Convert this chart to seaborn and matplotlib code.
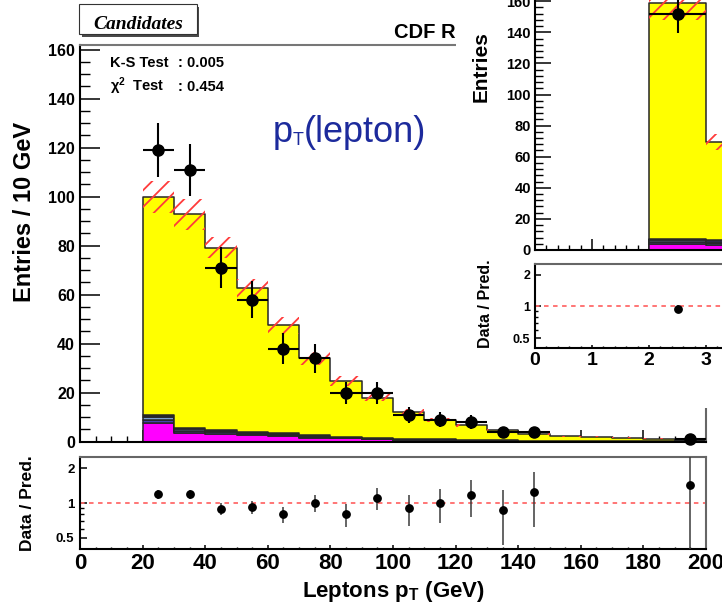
import numpy as np
import pandas as pd
import matplotlib
matplotlib.use("Agg")
import matplotlib.pyplot as plt
from matplotlib.patches import Rectangle
from matplotlib.ticker import MultipleLocator, FixedLocator, NullFormatter, FormatStrFormatter
import seaborn as sns

# ---------------- lepton pT spectrum (10 GeV bins, 20-200 GeV) ----------------
bin_edges = np.arange(20, 201, 10)
data_counts = [119, 111, 71, 58, 38, 34, 20, 20, 11, 9, 8, 4, 4, 0, 0, 0, 0, 1]
pred_total = [100, 92.8, 79.2, 62.6, 47.5, 34, 24.8, 18, 12.2, 9.0, 6.8, 4.6, 3.2,
              2.3, 2.0, 1.6, 1.3, 0.7]
pred_syst = [6.5, 6.4, 4.4, 4.0, 3.5, 2.7, 2.2, 1.5, 1.0, 0.8, 0.6, 0.4, 0.3,
             0.2, 0.2, 0.15, 0.1, 0.1]
bkg_magenta = [7.5, 3.6, 3.2, 2.6, 2.3, 1.6, 1.4, 1.1, 0.6, 0.5, 0.4, 0.3, 0.2,
               0.15, 0.1, 0.1, 0.1, 0.05]
bkg_blue = [1.4, 0.9, 0.7, 0.5, 0.5, 0.4, 0.3, 0.2, 0.2, 0.1, 0.1, 0.1, 0.05,
            0.05, 0.05, 0.05, 0.05, 0.05]
bkg_lightblue = [1.0, 0.5, 0.3, 0.3, 0.2, 0.2, 0.1, 0.1, 0.1, 0.1, 0.05, 0.05, 0.05,
                 0.05, 0.05, 0.05, 0.05, 0.05]
bkg_dark = [0.8, 0.6, 0.6, 0.5, 0.5, 0.4, 0.3, 0.3, 0.2, 0.2, 0.2, 0.1, 0.1,
            0.1, 0.1, 0.1, 0.05, 0.05]

# ---------------- second distribution (unit bins) ----------------
inset_edges = np.array([2.0, 3.0, 4.0])
inset_data = [152]
inset_pred_total = [159, 69.5]
inset_syst = [11, 5]
inset_magenta = [3.7, 3.2]
inset_blue = [1.6, 1.0]
inset_lightblue = [1.0, 0.6]
inset_dark = [1.0, 1.4]

y_ticks_main = [0, 20, 40, 60, 80, 100, 120, 140, 160]
ratio_ticks = [0.5, 1, 2]
ratio_minor = [0.6, 0.7, 0.8, 0.9]

proc_order = ["main", "dark", "lightblue", "blue", "magenta"]  # last one sits at the bottom
proc_colors = {"main": "#ffff00", "dark": "#2a2a44", "lightblue": "#7d9fd0",
               "blue": "#4646b0", "magenta": "#ff00ff"}

sns.set_theme(style="ticks", rc={
    "axes.edgecolor": "black", "text.color": "black", "axes.labelcolor": "black",
    "xtick.color": "black", "ytick.color": "black",
})
plt.rcParams["font.family"] = ["Liberation Sans", "DejaVu Sans"]
plt.rcParams["font.weight"] = "bold"
plt.rcParams["mathtext.fontset"] = "custom"
plt.rcParams["mathtext.rm"] = "Liberation Sans"
plt.rcParams["mathtext.it"] = "Liberation Sans:italic"
plt.rcParams["mathtext.bf"] = "Liberation Sans:bold"
plt.rcParams["hatch.color"] = "#ff3b3b"
plt.rcParams["hatch.linewidth"] = 1.3

W, H = 722, 608
fig = plt.figure(figsize=(W / 100, H / 100), dpi=100)


def frect(x0, y0, x1, y1):
    """Figure-fraction rectangle from pixel corners (top-left origin)."""
    return [x0 / W, 1 - y1 / H, (x1 - x0) / W, (y1 - y0) / H]


def stack_frame(edges, comps):
    centers = (edges[:-1] + edges[1:]) / 2
    rows = []
    for name, vals in comps.items():
        for c, v in zip(centers, vals):
            rows.append((c, v, name))
    return pd.DataFrame(rows, columns=["pt", "w", "proc"])


def draw_stack(ax, edges, total, magenta, blue, lightblue, dark, syst):
    total = np.asarray(total, float)
    others = np.asarray(magenta) + np.asarray(blue) + np.asarray(lightblue) + np.asarray(dark)
    comps = {"main": total - others, "dark": dark, "lightblue": lightblue,
             "blue": blue, "magenta": magenta}
    df = stack_frame(edges, comps)
    sns.histplot(data=df, x="pt", weights="w", hue="proc", hue_order=proc_order,
                 palette=proc_colors, multiple="stack", bins=[float(e) for e in edges],
                 element="step", fill=True, alpha=1, edgecolor="#262626", linewidth=1.1,
                 legend=False, ax=ax)
    centers = (edges[:-1] + edges[1:]) / 2
    syst = np.asarray(syst, float)
    ax.bar(centers, 2 * syst, bottom=total - syst, width=np.diff(edges), fill=False,
           hatch="//", edgecolor="#ff3b3b", linewidth=0, zorder=1.6)


def style_ticks(ax, xmaj, xmin, ymaj, ymin, xlab, ylab, xpad, ypad):
    ax.tick_params(which="both", direction="in", top=False, right=False, color="black")
    ax.tick_params(axis="x", which="major", length=xmaj, width=1.1, labelsize=xlab, pad=xpad)
    ax.tick_params(axis="x", which="minor", length=xmin, width=1.0)
    ax.tick_params(axis="y", which="major", length=ymaj, width=1.1, labelsize=ylab, pad=ypad)
    ax.tick_params(axis="y", which="minor", length=ymin, width=1.0)
    for lab in ax.get_xticklabels() + ax.get_yticklabels():
        lab.set_fontweight("bold")


def style_spines(ax, top=True, right=True):
    ax.spines["left"].set(color="black", linewidth=1.5)
    ax.spines["bottom"].set(color="black", linewidth=1.5)
    ax.spines["top"].set(color="#777777", linewidth=1.5, visible=top)
    ax.spines["right"].set(color="#666666", linewidth=1.5, visible=right)


def ratio_panel(ax, centers, counts, total, xlim, ms):
    counts = np.asarray(counts, float)
    total = np.asarray(total[:len(counts)], float)
    centers = np.asarray(centers[:len(counts)], float)
    keep = counts > 0
    r = counts[keep] / total[keep]
    e = np.sqrt(counts[keep]) / total[keep]
    lo = np.minimum(e, r - 1e-3)
    ax.axhline(1.0, color="#ff6a6a", lw=1.3, ls=(0, (2.5, 2.5)), zorder=1)
    ax.errorbar(centers[keep], r, yerr=[lo, e], fmt="o", ms=ms, color="black",
                ecolor="#3a3a3a", elinewidth=1.1, capsize=0, zorder=3)
    ax.set_yscale("log")
    ax.set_ylim(0.40, 2.52)
    ax.set_xlim(*xlim)
    ax.yaxis.set_major_locator(FixedLocator(ratio_ticks))
    ax.yaxis.set_major_formatter(FormatStrFormatter("%g"))
    ax.yaxis.set_minor_locator(FixedLocator(ratio_minor))
    ax.yaxis.set_minor_formatter(NullFormatter())
    ax.set_xlabel("")
    ax.set_ylabel("")
    ax.set_facecolor("white")


# ---------------- main panel ----------------
ax = fig.add_axes(frect(80, 45, 706, 441.7))
draw_stack(ax, bin_edges, pred_total, bkg_magenta, bkg_blue, bkg_lightblue, bkg_dark, pred_syst)
centers = (bin_edges[:-1] + bin_edges[1:]) / 2
counts = np.asarray(data_counts, float)
has = counts > 0
ax.errorbar(centers[has], counts[has], xerr=5, yerr=np.sqrt(counts[has]), fmt="o",
            ms=8, color="black", elinewidth=1.5, capsize=0, zorder=5, clip_on=False)
ax.set_xlim(0, 200)
ax.set_ylim(0, 161.9)
ax.xaxis.set_major_locator(MultipleLocator(20))
ax.xaxis.set_minor_locator(MultipleLocator(5))
ax.set_yticks(y_ticks_main)
ax.yaxis.set_minor_locator(MultipleLocator(5))
ax.set_xlabel("")
ax.set_ylabel("")
style_ticks(ax, 8.6, 4.3, 14.4, 7.2, 11, 11.5, 3, 3.6)
ax.tick_params(axis="x", labelbottom=False)
style_spines(ax)

# ---------------- main ratio panel ----------------
axr = fig.add_axes(frect(80, 456.7, 706, 549))
ratio_panel(axr, centers, data_counts, pred_total, (0, 200), 5.3)
axr.xaxis.set_major_locator(MultipleLocator(20))
axr.xaxis.set_minor_locator(MultipleLocator(5))
style_ticks(axr, 3.2, 1.8, 5, 3, 16, 9.5, 3, 4)
style_spines(axr)
axr.spines["top"].set_color("#666666")
axr.set_xlabel(r"Leptons p$_{\mathbf{T}}$ (GeV)", fontsize=16, fontweight="bold",
               va="baseline", ha="center")
axr.xaxis.set_label_coords(0.5, (549 - 596.7) / 92.3)

fig.text(25 / W, 1 - 211.5 / H, "Entries / 10 GeV", rotation=90, fontsize=17,
         ha="center", va="center")
fig.text(28 / W, 1 - 503 / H, "Data / Pred.", rotation=90, fontsize=12.5,
         ha="center", va="center")

# ---------------- annotations ----------------
fig.add_artist(Rectangle((81.8 / W, 1 - 36.7 / H), (199 - 81.8) / W, (36.7 - 6.5) / H,
                         transform=fig.transFigure, facecolor="#4a4a4a", edgecolor="none"))
fig.add_artist(Rectangle((79.3 / W, 1 - 34.3 / H), (196.7 - 79.3) / W, (34.3 - 4) / H,
                         transform=fig.transFigure, facecolor="white", edgecolor="#333333",
                         linewidth=0.8))
fig.text(138 / W, 1 - 29.3 / H, "Candidates", family=["Liberation Serif", "DejaVu Serif"],
         style="italic", fontweight="bold", fontsize=14, ha="center", va="baseline")
fig.text(394.3 / W, 1 - 37.7 / H, "CDF R", fontsize=14.5,
         ha="left", va="baseline", zorder=3)

fig.text(110 / W, 1 - 66.7 / H, "K-S Test", fontsize=10.5, va="baseline")
fig.text(178 / W, 1 - 66.7 / H, ": 0.005", fontsize=10.5, va="baseline")
fig.text(110 / W, 1 - 90.7 / H, r"$\mathrm{\chi}^{2}$  Test", fontsize=10.5, va="baseline")
fig.text(178 / W, 1 - 90.7 / H, ": 0.454", fontsize=10.5, va="baseline")

narrow = ["Liberation Sans Narrow", "Liberation Sans"]
blue_txt = "#1c2a9c"
t_p = ax.text(273 / W, 1 - 141.7 / H, "p", transform=fig.transFigure, fontsize=26,
              family=narrow, fontweight="normal", color=blue_txt, va="baseline", ha="left")
t_T = ax.annotate("T", xy=(1, 0), xycoords=t_p, xytext=(0, 3.5), textcoords="offset points",
                  fontsize=13, family=narrow, fontweight="normal", color=blue_txt,
                  va="baseline", ha="left", annotation_clip=False)
ax.annotate("(lepton)", xy=(1, 0), xycoords=(t_T, t_p), fontsize=26, family=narrow,
            fontweight="normal", color=blue_txt, va="bottom", ha="left",
            annotation_clip=False)

# ---------------- second plot, drawn over the upper right corner ----------------
fig.add_artist(Rectangle((456 / W, 1 - 408 / H), (W - 456) / W, 408 / H,
                         transform=fig.transFigure, facecolor="white", edgecolor="none",
                         zorder=10))

axi = fig.add_axes(frect(535, 0, 722, 250))
axi.set_zorder(11)
draw_stack(axi, inset_edges, inset_pred_total, inset_magenta, inset_blue,
           inset_lightblue, inset_dark, inset_syst)
icent = (inset_edges[:-1] + inset_edges[1:]) / 2
idata = np.asarray(inset_data, float)
axi.errorbar(icent[:len(idata)], idata, xerr=0.5, yerr=np.sqrt(idata), fmt="o", ms=8,
             color="black", elinewidth=1.5, capsize=0, zorder=5)
axi.set_xlim(0, 187 / 57)
axi.set_ylim(0, 160.8)
axi.xaxis.set_major_locator(MultipleLocator(1))
axi.xaxis.set_minor_locator(MultipleLocator(0.2))
axi.set_yticks(y_ticks_main)
axi.yaxis.set_minor_locator(MultipleLocator(4))
axi.set_xlabel("")
axi.set_ylabel("")
style_ticks(axi, 8, 3.6, 11.5, 5.8, 10, 10.5, 3, 3)
axi.tick_params(axis="x", labelbottom=False)
style_spines(axi, top=False, right=False)

axir = fig.add_axes(frect(535, 264.3, 722, 348.3))
axir.set_zorder(11)
ratio_panel(axir, icent, inset_data, inset_pred_total, (0, 187 / 57), 5.3)
axir.xaxis.set_major_locator(MultipleLocator(1))
axir.xaxis.set_minor_locator(MultipleLocator(0.2))
style_ticks(axir, 2.5, 1.5, 4, 2.5, 14, 9, 3, 3.5)
style_spines(axir, top=True, right=False)
axir.spines["top"].set_color("#666666")

fig.text(481.5 / W, 1 - 67 / H, "Entries", rotation=90, fontsize=15,
         ha="center", va="center", zorder=12)
fig.text(485.5 / W, 1 - 304 / H, "Data / Pred.", rotation=90, fontsize=11.5,
         ha="center", va="center", zorder=12)

fig.savefig("out.png", dpi=100, facecolor="white")
